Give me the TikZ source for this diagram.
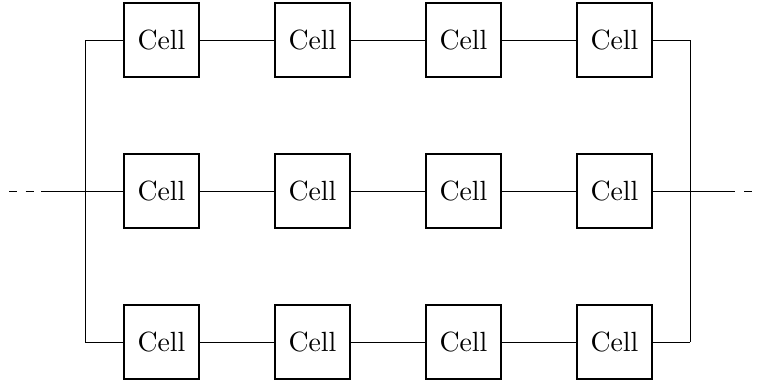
\documentclass[tikz,border=0pt]{standalone}
\begin{document}
\begin{tikzpicture}[x=0.36pt,y=-0.36pt,
  cellbox/.style={draw,line width=0.8pt,minimum width=27pt,minimum height=26.6pt,inner sep=0pt,font=\normalsize},
  wire/.style={line width=0.3pt}]
\useasboundingbox (0,0) rectangle (759,383);
\foreach \r/\y in {1/40,2/191,3/342}{
  \foreach \c/\x in {1/161.5,2/312.5,3/463.5,4/614.5}{
    \node[cellbox] (b\r\c) at (\x,\y) {Cell};
  }
  \draw[wire] (b\r1) -- (b\r2);
  \draw[wire] (b\r2) -- (b\r3);
  \draw[wire] (b\r3) -- (b\r4);
}
\coordinate (lt) at (85,40);
\coordinate (lm) at (85,191);
\coordinate (lb) at (85,342);
\coordinate (rt) at (690,40);
\coordinate (rm) at (690,191);
\coordinate (rb) at (690,342);
\coordinate (la) at (9,191);
\coordinate (lc) at (41,191);
\coordinate (rc) at (735,191);
\coordinate (rd) at (744,191);
\coordinate (re) at (759,191);
\draw[wire] (lt) -- (lb);
\draw[wire] (rt) -- (rb);
\draw[wire] (lt) -- (b11.west);
\draw[wire] (lc) -- (b21.west);
\draw[wire] (lb) -- (b31.west);
\draw[wire] (b14.east) -- (rt);
\draw[wire] (b24.east) -- (rc);
\draw[wire] (b34.east) -- (rb);
\draw[wire,dashed] (la) -- (lc);
\draw[wire,dashed] (rd) -- (re);
\end{tikzpicture}
\end{document}
